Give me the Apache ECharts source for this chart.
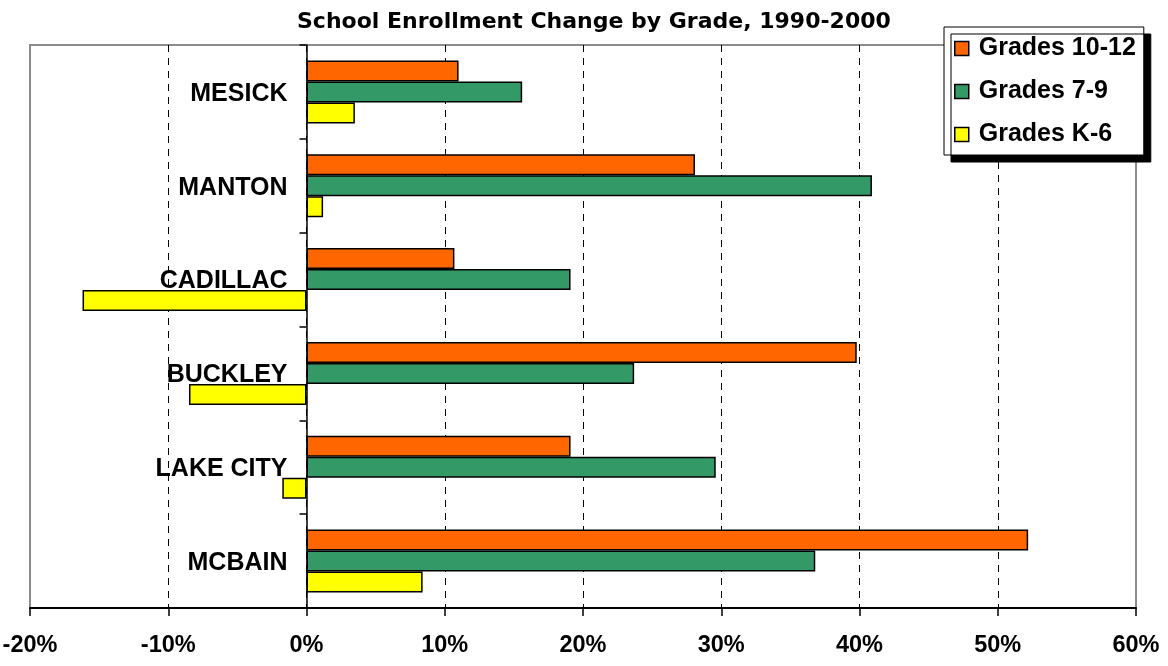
<!DOCTYPE html>
<html>
<head>
<meta charset="utf-8">
<script src="https://cdn.jsdelivr.net/npm/echarts@6/dist/echarts.min.js"></script>
<style>
html,body{margin:0;padding:0;background:#fff;}
#chart{width:1168px;height:666px;}
</style>
</head>
<body>
<div id="chart"></div>
<script>
// ---- data ----
const categories = ['MESICK', 'MANTON', 'CADILLAC', 'BUCKLEY', 'LAKE CITY', 'MCBAIN'];
const seriesNames = ['Grades 10-12', 'Grades 7-9', 'Grades K-6'];
const grades10to12 = [11.0, 28.1, 10.7, 39.8, 19.1, 52.2];
const grades7to9 = [15.6, 40.9, 19.1, 23.7, 29.6, 36.8];
const gradesK6 = [3.5, 1.2, -16.2, -8.5, -1.75, 8.4];
const xMin = -20, xMax = 60, xStep = 10;

const FONT = 'Liberation Sans, Arial, sans-serif';
const colors = ['#FF6600', '#339966', '#FFFF00'];
const values = [grades10to12, grades7to9, gradesK6];

const barSeries = seriesNames.map((name, i) => ({
  name: name,
  type: 'bar',
  data: values[i],
  barWidth: 21,
  barGap: '0%',
  z: 2,
  itemStyle: {color: colors[i], borderColor: '#000', borderWidth: 1.5}
}));

// category names drawn next to the zero line (where the category axis sits)
const labelSeries = {
  name: 'categoryLabels',
  type: 'scatter',
  data: categories.map(c => [0, c]),
  symbolSize: 0,
  itemStyle: {color: '#000'},
  silent: true,
  z: 5,
  emphasis: {disabled: true},
  label: {
    show: true,
    position: 'left',
    distance: 19,
    offset: [0, 2],
    formatter: p => p.value[1],
    fontFamily: FONT, fontWeight: 'bold', fontSize: 25,
    color: '#000', opacity: 1, textBorderWidth: 0, textShadowBlur: 0
  }
};

const chart = echarts.init(document.getElementById('chart'), null, {renderer: 'canvas'});
chart.setOption({
  animation: false,
  backgroundColor: '#ffffff',
  title: {
    text: 'School Enrollment Change by Grade, 1990-2000',
    left: 292,
    top: 6,
    textStyle: {fontFamily: 'DejaVu Sans, sans-serif', fontWeight: 'bold', fontSize: 22, color: '#000'}
  },
  legend: {
    orient: 'vertical',
    left: 944,
    top: 27,
    data: seriesNames,
    backgroundColor: '#fff',
    borderColor: '#000',
    borderWidth: 1,
    padding: [9, 8, 8, 10],
    itemGap: 18,
    itemWidth: 14,
    itemHeight: 14,
    icon: 'rect',
    shadowColor: '#000',
    shadowBlur: 0,
    shadowOffsetX: 7,
    shadowOffsetY: 7,
    itemStyle: {borderColor: '#000', borderWidth: 1.5},
    textStyle: {fontFamily: FONT, fontWeight: 'bold', fontSize: 25, color: '#000', lineHeight: 24, padding: [0, 0, 0, 5]}
  },
  grid: {
    left: 30, right: 32, top: 45, bottom: 58,
    containLabel: false,
    outerBoundsMode: 'none',
    show: true, borderColor: '#8c8c8c', borderWidth: 2, backgroundColor: '#fff'
  },
  xAxis: {
    type: 'value',
    min: xMin, max: xMax, interval: xStep,
    axisLine: {show: true, lineStyle: {color: '#000', width: 2}},
    axisTick: {show: true, length: 8, lineStyle: {color: '#000', width: 1.5}},
    axisLabel: {formatter: '{value}%', margin: 26, fontFamily: FONT, fontWeight: 'bold', fontSize: 23.5, color: '#000'},
    splitLine: {show: true, showMinLine: false, showMaxLine: false, lineStyle: {color: '#000', width: 1, type: [7, 6]}}
  },
  yAxis: {
    type: 'category',
    data: categories,
    inverse: true,
    axisLine: {show: true, onZero: true, lineStyle: {color: '#000', width: 1.5}},
    axisTick: {show: true, length: 7, lineStyle: {color: '#000', width: 1.5}},
    axisLabel: {show: false},
    splitLine: {show: false}
  },
  series: barSeries.concat([labelSeries])
});
</script>
</body>
</html>
